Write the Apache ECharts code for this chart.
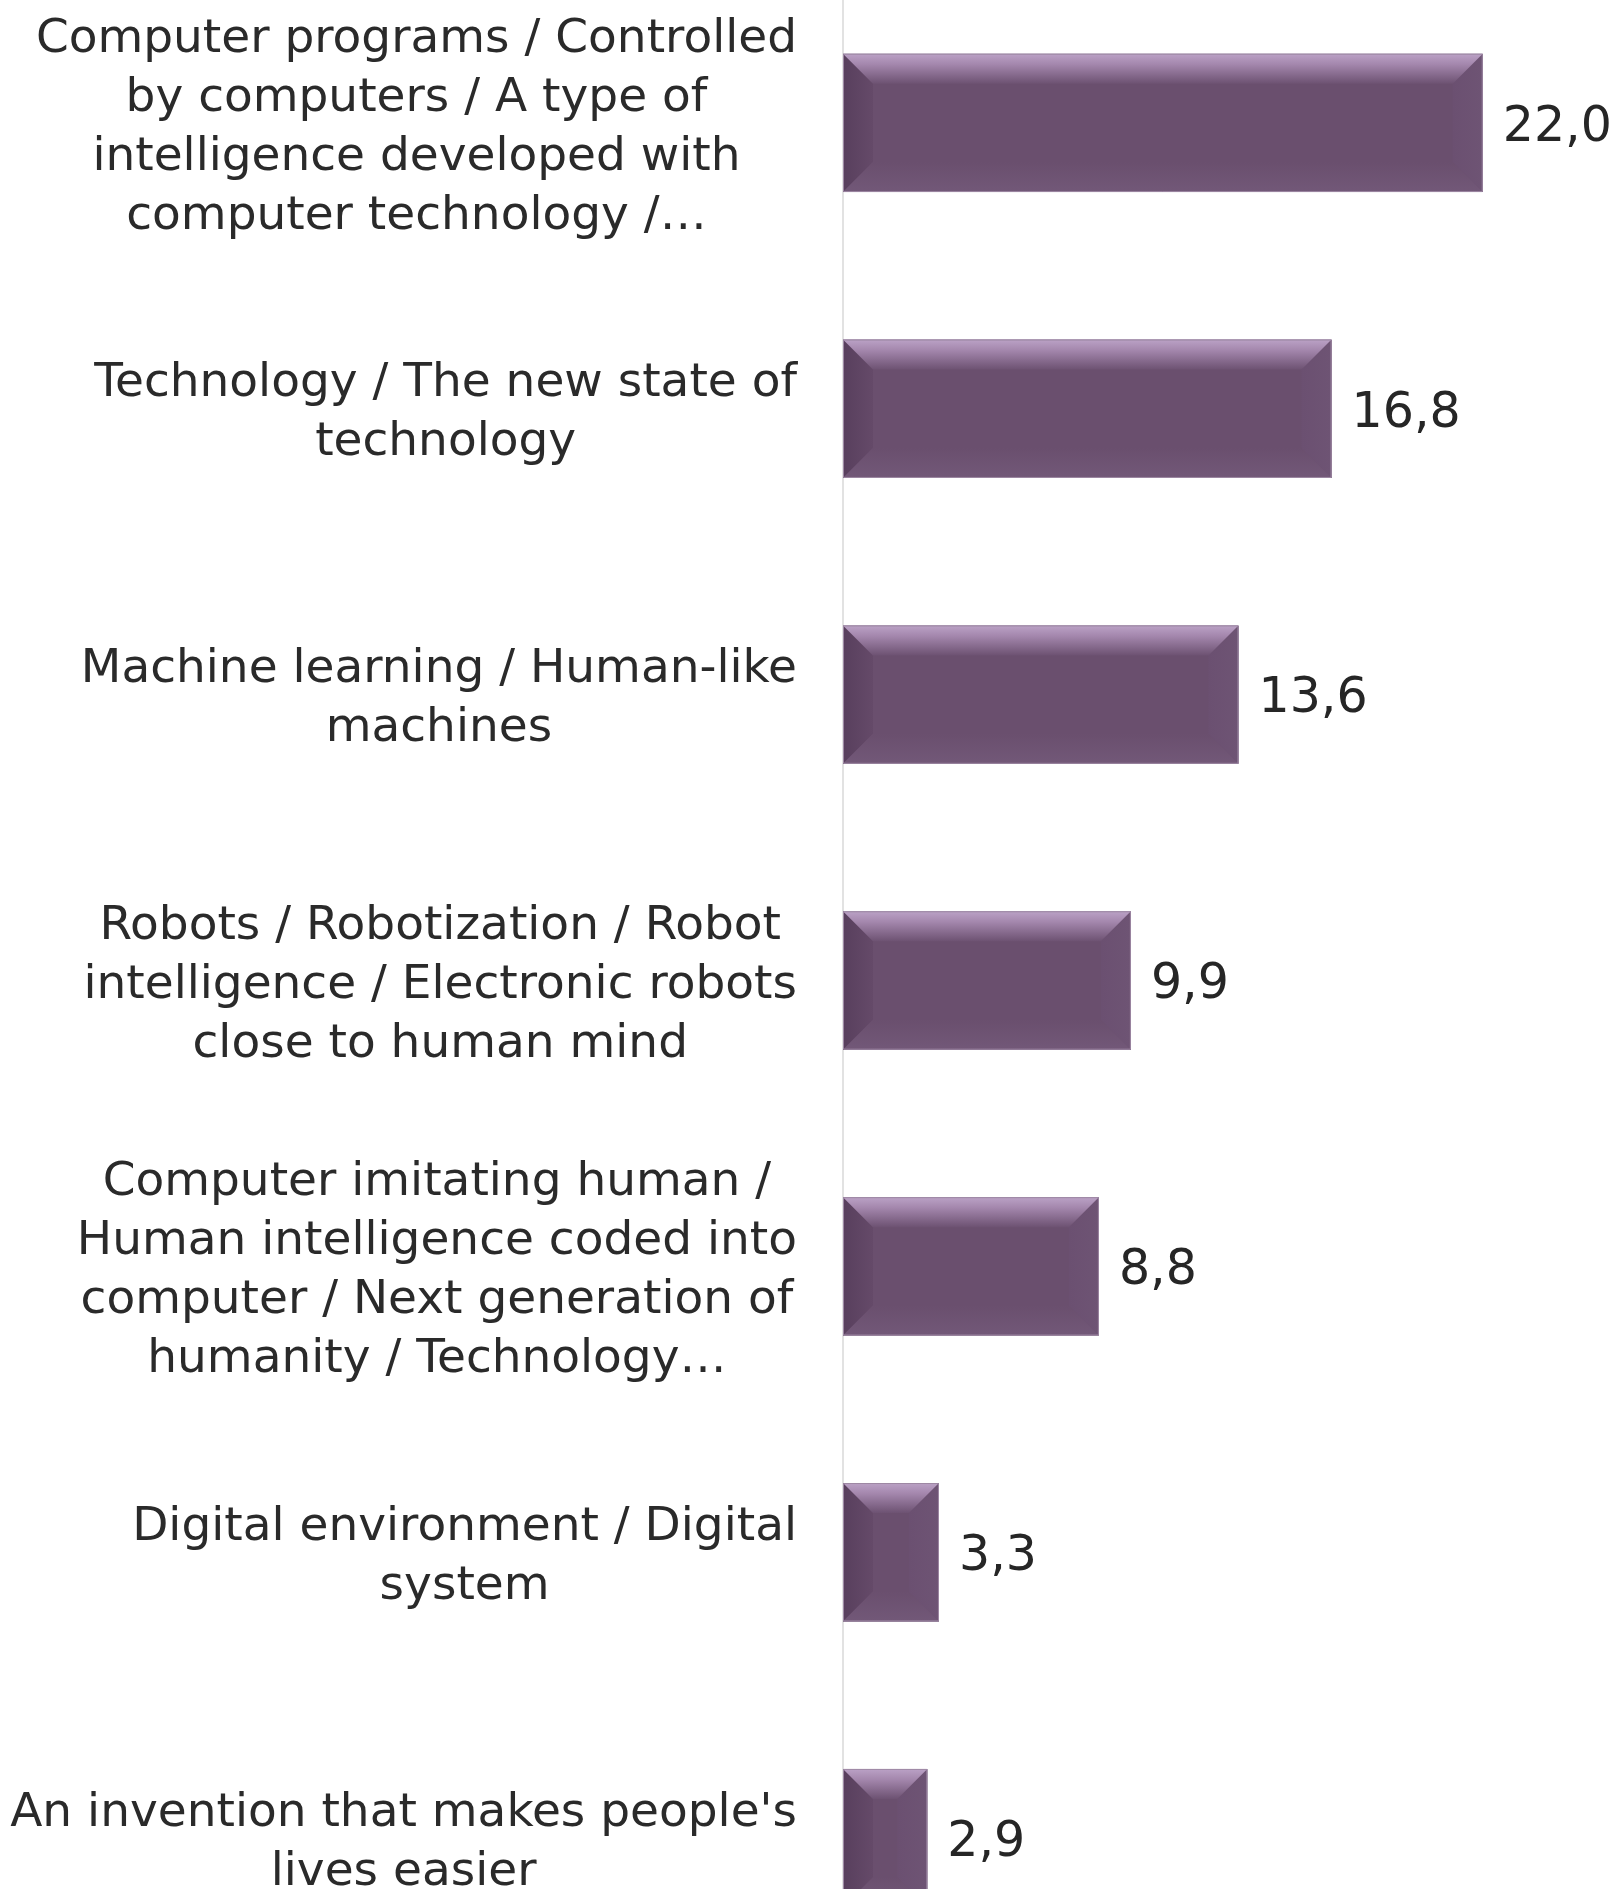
<!DOCTYPE html>
<html>
<head>
<meta charset="utf-8">
<script src="https://cdn.jsdelivr.net/npm/echarts@6/dist/echarts.min.js"></script>
<style>
html,body{margin:0;padding:0;background:#fff;}
#c{width:1619px;height:1889px;}
</style>
</head>
<body>
<div id="c"></div>
<script>
var categories = [
  "Computer programs / Controlled\nby computers / A type of\nintelligence developed with\ncomputer technology /\u2026",
  "Technology / The new state of\ntechnology",
  "Machine learning / Human-like\nmachines",
  "Robots / Robotization / Robot\nintelligence / Electronic robots\nclose to human mind",
  "Computer imitating human /\nHuman intelligence coded into\ncomputer / Next generation of\nhumanity / Technology\u2026",
  "Digital environment / Digital\nsystem",
  "An invention that makes people's\nlives easier"
];
var values = [22.0, 16.8, 13.6, 9.9, 8.8, 3.3, 2.9];

var FONT = "DejaVu Sans";
var chart = echarts.init(document.getElementById('c'));

function bevelItem(params, api) {
  var v = api.value(0), idx = api.value(1);
  var p0 = api.coord([0, idx]);
  var p1 = api.coord([v, idx]);
  var band = api.size([0, 1])[1];
  var h = band * 0.484;
  var x0 = p0[0], x1 = p1[0], y0 = p0[1] - h / 2, y1 = p0[1] + h / 2;
  var w = x1 - x0;
  var d = Math.min(30, w / 2, h / 2);
  function poly(pts, fill) {
    return { type: 'polygon', shape: { points: pts }, style: { fill: fill }, silent: true };
  }
  return {
    type: 'group',
    children: [
      poly([[x0, y0], [x0 + d, y0 + d], [x0 + d, y1 - d], [x0, y1]],
        new echarts.graphic.LinearGradient(0, 0, 1, 0, [{offset: 0, color: '#583f5d'}, {offset: 1, color: '#654a69'}])),
      poly([[x1, y0], [x1 - d, y0 + d], [x1 - d, y1 - d], [x1, y1]],
        new echarts.graphic.LinearGradient(0, 0, 1, 0, [{offset: 0, color: '#6b5071'}, {offset: 1, color: '#6e5474'}])),
      poly([[x0, y0], [x1, y0], [x1 - d, y0 + d], [x0 + d, y0 + d]],
        new echarts.graphic.LinearGradient(0, 0, 0, 1, [{offset: 0, color: '#bba2c6'}, {offset: 0.35, color: '#a487ad'}, {offset: 1, color: '#6d5272'}])),
      poly([[x0, y1], [x1, y1], [x1 - d, y1 - d], [x0 + d, y1 - d]],
        new echarts.graphic.LinearGradient(0, 0, 0, 1, [{offset: 0, color: '#6a4f6e'}, {offset: 1, color: '#725878'}])),
      { type: 'rect', shape: { x: x0 + 0.5, y: y0 + 0.5, width: w - 1, height: h - 1 },
        style: { fill: null, stroke: '#9d88a4', lineWidth: 1 }, silent: true }
    ]
  };
}

chart.setOption({
  backgroundColor: '#ffffff',
  animation: false,
  grid: { left: 843, right: 49, top: -20, bottom: -92, outerBoundsMode: 'none', containLabel: false },
  xAxis: {
    type: 'value', min: 0, max: 25, show: false,
    splitLine: { show: false }
  },
  yAxis: {
    type: 'category', data: categories, inverse: true,
    axisLine: { show: true, lineStyle: { color: '#d9d9d9', width: 1.5 } },
    axisTick: { show: false },
    splitLine: { show: false },
    axisLabel: {
      interval: 0, margin: 46, padding: [10, 0, 0, 0],
      formatter: function (v) {
        return v.split('\n').map(function (l) { return '{a|' + l + '}'; }).join('\n');
      },
      rich: { a: { align: 'center', fontSize: 47, lineHeight: 59, fontFamily: FONT, color: '#2a2a2a' } }
    }
  },
  series: [
    {
      type: 'bar', data: values, barWidth: '48.4%', z: 2,
      itemStyle: { color: '#6a4f6e' },
      label: {
        show: true, position: 'right', distance: 20, offset: [0, 5],
        fontSize: 49, fontFamily: FONT, color: '#262626',
        formatter: function (p) { return p.value.toFixed(1).replace('.', ','); }
      }
    },
    {
      type: 'custom', z: 3, silent: true,
      data: values.map(function (v, i) { return [v, i]; }),
      encode: { x: 0, y: 1 },
      renderItem: bevelItem
    }
  ]
});
</script>
</body>
</html>
